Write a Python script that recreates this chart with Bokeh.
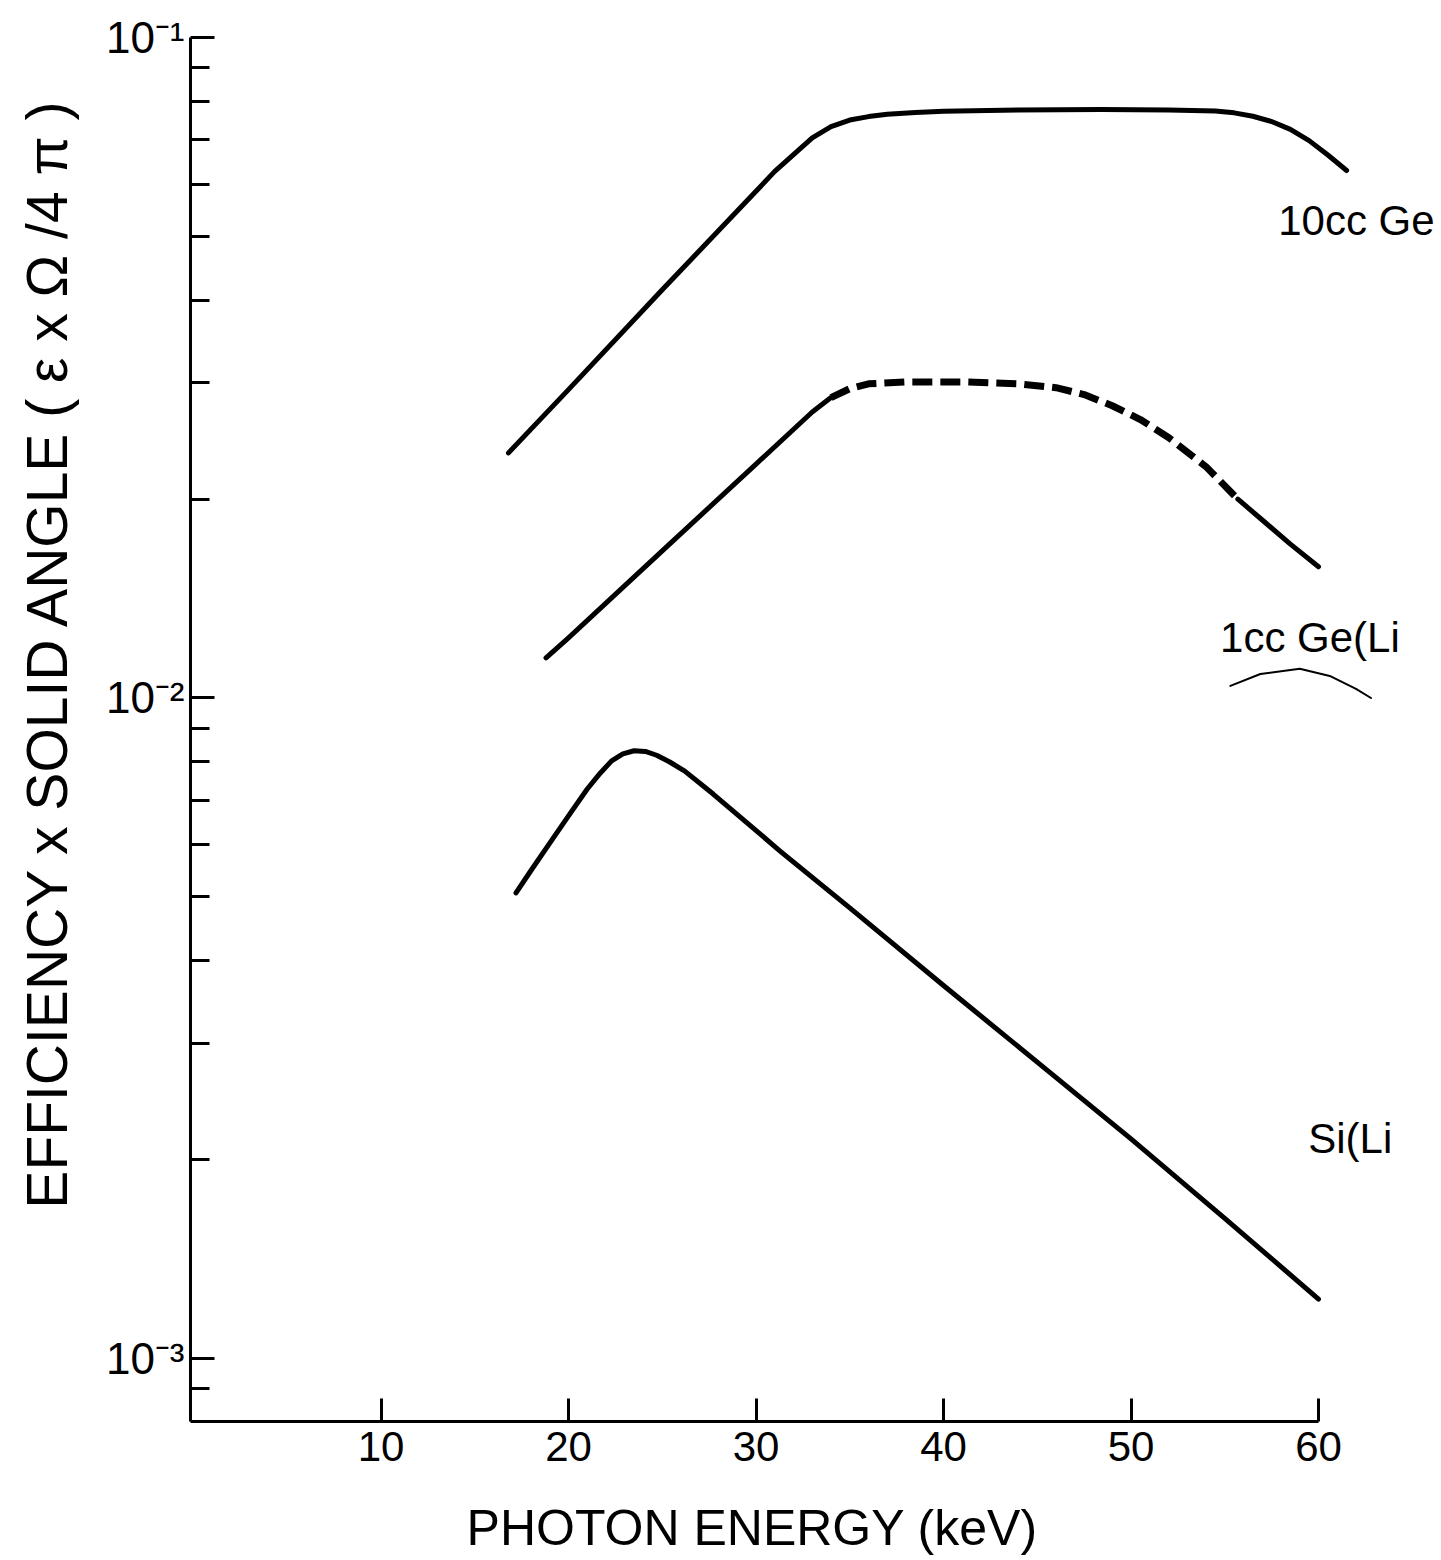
import math
from bokeh.plotting import figure
from bokeh.models import Range1d, FixedTicker, Label
from bokeh.embed import file_html
from bokeh.resources import INLINE

# ---------------- data ----------------
# 10cc Ge  (solid)
ge10_x = [16.8, 20.0, 25.0, 30.0, 31.0, 32.0, 33.0, 34.0, 35.0, 36.0, 37.0, 38.5, 40.0,
          44.0, 48.4, 52.0, 54.5, 55.5, 56.5, 57.5, 58.5, 59.5, 60.5, 61.5]
ge10_y = [0.0235, 0.0293, 0.0415, 0.0585, 0.0627, 0.0665, 0.0705, 0.0733, 0.0750,
          0.0759, 0.0765, 0.0770, 0.0773, 0.0777, 0.0778, 0.0777, 0.0774, 0.0769,
          0.0760, 0.0746, 0.0726, 0.0698, 0.0664, 0.0629]

# 1cc Ge(Li): solid rise, dashed plateau, solid tail
ge1_rise_x = [18.8, 20.0, 25.0, 30.0, 33.0, 34.0]
ge1_rise_y = [0.0115, 0.01233, 0.0167, 0.0226, 0.0271, 0.0285]
ge1_dash_x = [34.0, 35.0, 36.0, 38.0, 41.0, 44.0, 46.0, 47.5, 49.0, 50.5, 52.0, 54.0, 55.7]
ge1_dash_y = [0.0285, 0.0294, 0.0299, 0.0301, 0.0301, 0.0299, 0.0295, 0.0288, 0.0277,
              0.0264, 0.0248, 0.0224, 0.0200]
ge1_tail_x = [55.7, 57.0, 58.5, 60.0]
ge1_tail_y = [0.0200, 0.0186, 0.0171, 0.0158]

# Si(Li)
si_x = [17.2, 18.0, 19.0, 20.0, 21.0, 21.7, 22.3, 22.9, 23.5, 24.1, 24.7, 25.4, 26.2,
        27.7, 31.3, 35.0, 40.0, 45.0, 50.0, 55.0, 60.0]
si_y = [0.00507, 0.00548, 0.00603, 0.00663, 0.00728, 0.00770, 0.00803, 0.00823,
        0.00832, 0.00830, 0.00819, 0.00800, 0.00775, 0.00716, 0.00586, 0.00481,
        0.00367, 0.00281, 0.00215, 0.00163, 0.00123]

# hand-drawn arc under the "1cc Ge(Li" label
arc_x = [55.3, 56.9, 59.0, 60.6, 62.0, 62.8]
arc_y = [0.01043, 0.01087, 0.01107, 0.0108, 0.01032, 0.0100]

# axes
x_ticks = [10, 20, 30, 40, 50, 60]
x_tick_labels = ["10", "20", "30", "40", "50", "60"]
y_major = [0.001, 0.01, 0.1]
y_major_labels = ["10⁻³", "10⁻²", "10⁻¹"]
y_minor = [0.0009] + [m * 0.001 for m in range(2, 10)] + [m * 0.01 for m in range(2, 10)]

curve_labels = ["10cc Ge", "1cc Ge(Li", "Si(Li"]
curve_label_x = [57.85, 54.75, 59.45]
curve_label_y = [0.0528, 0.01233, 0.00215]

x_title = "PHOTON ENERGY (keV)"
y_title = "EFFICIENCY x SOLID ANGLE ( ε x Ω /4 π )"

# ---------------- figure ----------------
FONT = "Liberation Sans"
X0, X1 = -0.16, 66.56
Y0, Y1 = 8.027e-4, 0.11377

p = figure(width=1441, height=1560,
           x_range=Range1d(X0, X1), y_range=Range1d(Y0, Y1),
           y_axis_type="log", output_backend="svg", toolbar_location=None,
           min_border_left=190, min_border_right=0, min_border_top=0,
           min_border_bottom=139)
p.outline_line_color = None
p.xgrid.visible = False
p.ygrid.visible = False
p.background_fill_color = "white"
p.border_fill_color = "white"

for ax in (p.xaxis[0], p.yaxis[0]):
    ax.axis_line_width = 3
    ax.axis_line_color = "black"
    ax.major_tick_line_width = 3
    ax.major_tick_line_color = "black"
    ax.minor_tick_line_width = 3
    ax.minor_tick_line_color = "black"
    ax.major_tick_out = 0
    ax.minor_tick_out = 0
    ax.major_label_text_font = FONT
    ax.major_label_text_color = "black"

xa = p.xaxis[0]
xa.ticker = FixedTicker(ticks=x_ticks, minor_ticks=[])
xa.major_label_overrides = dict(zip(x_ticks, x_tick_labels))
xa.major_tick_in = 23
xa.bounds = (X0, 60)
xa.major_label_text_font_size = "42px"
xa.major_label_standoff = 10

ya = p.yaxis[0]
ya.ticker = FixedTicker(ticks=y_major, minor_ticks=y_minor)
ya.major_label_overrides = dict(zip(y_major, y_major_labels))
ya.major_tick_in = 24
ya.minor_tick_in = 19
ya.bounds = (Y0, 0.1)
ya.major_label_text_font_size = "44px"
ya.major_label_standoff = 6

# axis titles: labels placed in the side panels (outside the clipped frame)
p.add_layout(Label(x=29.8, y=5.53e-4, text=x_title, text_font=FONT, text_font_size="50px",
                   text_color="black", text_align="center", text_baseline="middle"), "below")
p.add_layout(Label(x=-7.8, y=0.0117, text=y_title, text_font=FONT, text_font_size="57px",
                   text_color="black", text_align="center", text_baseline="middle",
                   angle=math.pi / 2), "left")

# ---------------- curves ----------------
p.line(ge10_x, ge10_y, line_color="black", line_width=5, line_join="round", line_cap="round")
p.line(ge1_rise_x, ge1_rise_y, line_color="black", line_width=5, line_join="round", line_cap="round")
p.line(ge1_dash_x, ge1_dash_y, line_color="black", line_width=7, line_dash="20 8",
       line_join="round", line_cap="butt")
p.line(ge1_tail_x, ge1_tail_y, line_color="black", line_width=5, line_join="round", line_cap="round")
p.line(si_x, si_y, line_color="black", line_width=5, line_join="round", line_cap="round")
p.line(arc_x, arc_y, line_color="black", line_width=2, line_join="round", line_cap="round")

for t, lx, ly in zip(curve_labels, curve_label_x, curve_label_y):
    p.add_layout(Label(x=lx, y=ly, text=t, text_font=FONT, text_font_size="42px",
                       text_color="black", text_align="left", text_baseline="middle"))

open("out.html", "w").write(file_html(p, INLINE))
